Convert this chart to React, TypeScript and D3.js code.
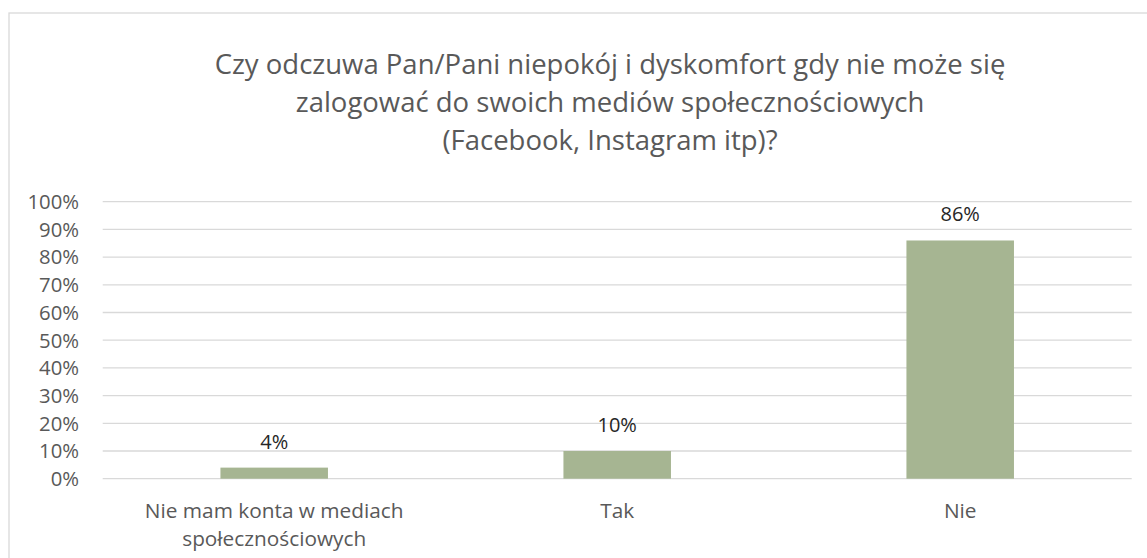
import React from "react";
import * as d3 from "d3";

const titleLines = [
  "Czy odczuwa Pan/Pani niepokój i dyskomfort gdy nie może się",
  "zalogować do swoich mediów społecznościowych",
  "(Facebook, Instagram itp)?",
];
const categories = ["Nie mam konta w mediach\nspołecznościowych", "Tak", "Nie"];
const values = [0.04, 0.1, 0.86];
const yTicks = [0, 0.1, 0.2, 0.3, 0.4, 0.5, 0.6, 0.7, 0.8, 0.9, 1.0];

const W = 1147;
const H = 558;
const FONT = "'Open Sans', 'Noto Sans', sans-serif";

export default function App() {
  const x = d3
    .scaleBand<string>()
    .domain(categories)
    .range([102.7, 1131.7])
    .paddingInner(219 / 319)
    .paddingOuter(219 / 319 / 2);
  const y = d3.scaleLinear().domain([0, 1]).range([478.7, 201.7]);
  const pct = d3.format(".0%");

  return (
    <div style={{ position: "absolute", left: 0, top: 0 }}>
      <svg width={W} height={H} style={{ display: "block", background: "#fff" }}>
        <rect x={9} y={13} width={1200} height={600} fill="#fff" stroke="#d9d9d9" strokeWidth={1.3} />
        <g fontFamily={FONT} fill="#595959" textAnchor="middle" fontSize={27.5}>
          {titleLines.map((t, i) => (
            <text key={i} x={610} y={74 + i * 38}>
              {t}
            </text>
          ))}
        </g>
        <g>
          {yTicks.map((t) => (
            <line key={t} x1={102.7} x2={1131.7} y1={y(t)} y2={y(t)} stroke="#d9d9d9" strokeWidth={1.3} />
          ))}
        </g>
        <g fontFamily={FONT} fill="#595959" fontSize={20.3} textAnchor="end">
          {yTicks.map((t) => (
            <text key={t} x={79} y={y(t)} dy="0.36em">
              {pct(t)}
            </text>
          ))}
        </g>
        <g>
          {categories.map((c, i) => (
            <rect
              key={c}
              x={x(c)}
              y={y(values[i])}
              width={x.bandwidth()}
              height={y(0) - y(values[i])}
              fill="#a6b592"
            />
          ))}
        </g>
        <g fontFamily={FONT} fill="#262626" fontSize={20} textAnchor="middle">
          {categories.map((c, i) => (
            <text key={c} x={(x(c) as number) + x.bandwidth() / 2} y={y(values[i]) - 19}>
              {pct(values[i])}
            </text>
          ))}
        </g>
        <g fontFamily={FONT} fill="#595959" fontSize={20.8} textAnchor="middle">
          {categories.map((c) =>
            c.split("\n").map((line, j) => (
              <text key={c + j} x={(x(c) as number) + x.bandwidth() / 2} y={518 + j * 28}>
                {line}
              </text>
            ))
          )}
        </g>
      </svg>
    </div>
  );
}
